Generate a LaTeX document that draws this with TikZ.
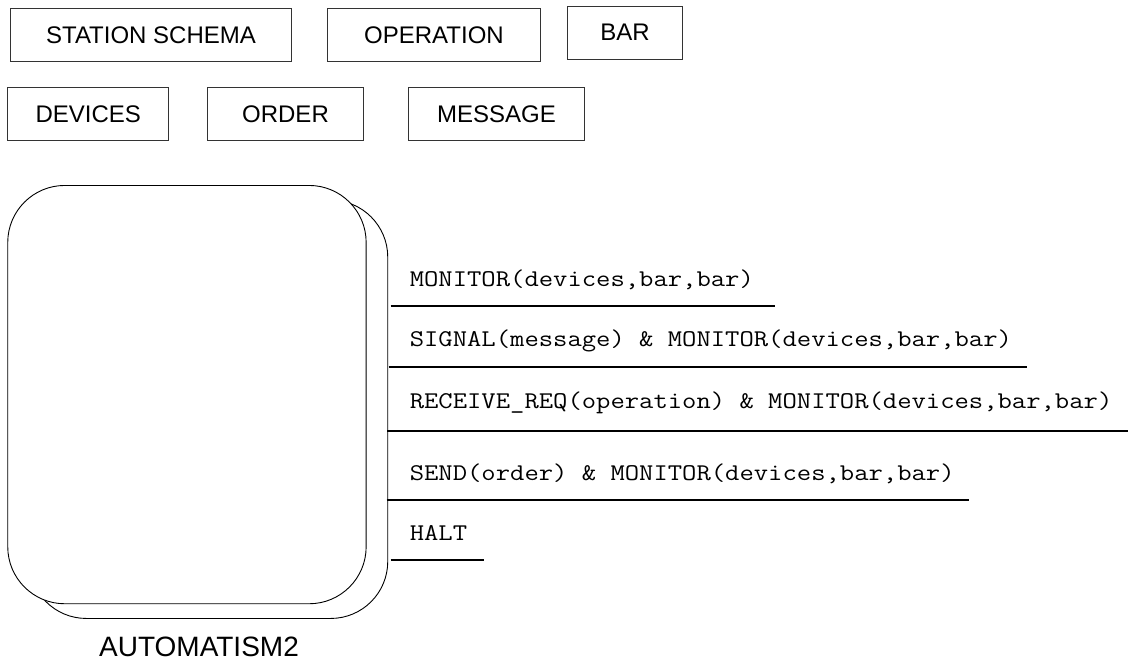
\documentclass[tikz,border=0pt]{standalone}
\usepackage{fontspec}
\setmainfont{Liberation Sans}
\begin{document}
\begin{tikzpicture}[x=1pt,y=-1pt,
  typebox/.style={draw=black!80, line width=1pt, inner sep=0pt, anchor=north west,
    minimum height=52.7, font=\fontsize{24}{28}\selectfont},
  automaton/.style={draw=black, line width=0.9pt, rounded corners=57pt, fill=white,
    anchor=north west, minimum width=358.4, minimum height=418.3, inner sep=0pt},
  translabel/.style={anchor=base west, inner sep=0pt, font=\ttfamily\fontsize{24}{28}\selectfont},
  transline/.style={draw=black, line width=1.8pt}]
\newcommand{\mylbl}[1]{\scalebox{1.16}[1]{#1}}
\useasboundingbox (0,0) rectangle (1128,667);

% type boxes
\node[typebox, minimum width=281] (station) at (10,8.3) {STATION SCHEMA};
\node[typebox, minimum width=213.6] (operation) at (326.7,8.3) {OPERATION};
\node[typebox, minimum width=115.6, minimum height=53] (bar) at (566.7,5.7) {BAR};
\node[typebox, minimum width=161] (devices) at (7.3,87.3) {DEVICES};
\node[typebox, minimum width=156.6] (order) at (206.7,87.3) {ORDER};
\node[typebox, minimum width=175.4] (message) at (408.3,87.3) {MESSAGE};

% automaton with shadow
\node[automaton] (autoshadow) at (28.9,199.7) {};
\node[automaton] (auto) at (7.3,185) {};
\node[font=\fontsize{28}{32}\selectfont, inner sep=0pt] (autolabel) at (199,646.7) {AUTOMATISM2};

% transitions
\node[translabel] (t1) at (409.6,286.5) {\mylbl{MONITOR(devices,bar,bar)}};
\node[translabel] (t2) at (409.6,346.7) {\mylbl{SIGNAL(message) \& MONITOR(devices,bar,bar)}};
\node[translabel] (t3) at (409.6,408.2) {\mylbl{RECEIVE\_REQ(operation) \& MONITOR(devices,bar,bar)}};
\node[translabel] (t4) at (409.6,480) {\mylbl{SEND(order) \& MONITOR(devices,bar,bar)}};
\node[translabel] (t5) at (409.6,540) {\mylbl{HALT}};

\coordinate (l1a) at (390.5,306);   \coordinate (l1b) at (775,306);
\coordinate (l2a) at (388.6,366.7); \coordinate (l2b) at (1026.5,366.7);
\coordinate (l3a) at (387,431);     \coordinate (l3b) at (1128,431);
\coordinate (l4a) at (386.7,500);   \coordinate (l4b) at (969,500);
\coordinate (l5a) at (390.5,560);   \coordinate (l5b) at (484,560);
\draw[transline] (l1a) -- (l1b);
\draw[transline] (l2a) -- (l2b);
\draw[transline] (l3a) -- (l3b);
\draw[transline] (l4a) -- (l4b);
\draw[transline] (l5a) -- (l5b);
\end{tikzpicture}
\end{document}
